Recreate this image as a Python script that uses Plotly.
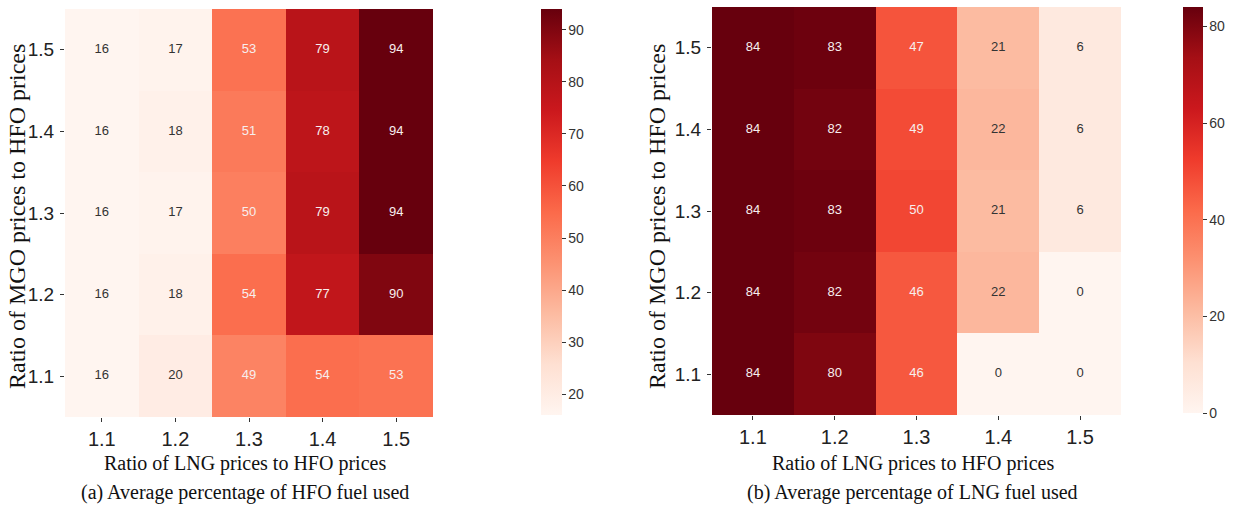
import plotly.graph_objects as go

# ---- data ----
lng_ratio = ["1.1", "1.2", "1.3", "1.4", "1.5"]   # x categories
mgo_ratio = ["1.1", "1.2", "1.3", "1.4", "1.5"]   # y categories (bottom -> top)

# rows follow mgo_ratio (1.1 .. 1.5), columns follow lng_ratio
hfo_used = [
    [16, 20, 49, 54, 53],
    [16, 18, 54, 77, 90],
    [16, 17, 50, 79, 94],
    [16, 18, 51, 78, 94],
    [16, 17, 53, 79, 94],
]
lng_used = [
    [84, 80, 46, 0, 0],
    [84, 82, 46, 22, 0],
    [84, 83, 50, 21, 6],
    [84, 82, 49, 22, 6],
    [84, 83, 47, 21, 6],
]

x_title = "Ratio of LNG prices to HFO prices"
y_title = "Ratio of MGO prices to HFO prices"
sub_a = "(a) Average percentage of HFO fuel used"
sub_b = "(b) Average percentage of LNG fuel used"

# ---- style ----
W, H = 1237, 506
REDS = [[0, "rgb(255,245,240)"], [0.125, "rgb(254,224,210)"], [0.25, "rgb(252,187,161)"],
        [0.375, "rgb(252,146,114)"], [0.5, "rgb(251,106,74)"], [0.625, "rgb(239,59,44)"],
        [0.75, "rgb(203,24,29)"], [0.875, "rgb(165,15,21)"], [1, "rgb(103,0,13)"]]
SANS = "Liberation Sans, Arial, sans-serif"
SERIF = "Liberation Serif, Times New Roman, serif"

def px_x(p):
    return p / W

def px_y(p):
    return 1 - p / H

panels = [
    dict(z=hfo_used, zmin=16, zmax=94, dtick=10, xd=(65, 433), yd=(9, 417),
         cb_x=541, cb_top=9, cb_bot=415, cb_th=21, sub=sub_a, xs="x", ys="y"),
    dict(z=lng_used, zmin=0, zmax=84, dtick=20, xd=(712, 1121), yd=(7, 415),
         cb_x=1183, cb_top=7, cb_bot=413, cb_th=20, sub=sub_b, xs="x2", ys="y2"),
]

fig = go.Figure()
annotations = []
for i, p in enumerate(panels):
    fig.add_trace(go.Heatmap(
        z=p["z"], x=lng_ratio, y=mgo_ratio, xaxis=p["xs"], yaxis=p["ys"],
        colorscale=REDS, zmin=p["zmin"], zmax=p["zmax"], hoverongaps=False,
        colorbar=dict(
            x=px_x(p["cb_x"]), xanchor="left", xref="paper", xpad=0, ypad=0,
            y=px_y((p["cb_top"] + p["cb_bot"]) / 2), yanchor="middle",
            len=p["cb_bot"] - p["cb_top"], lenmode="pixels",
            thickness=p["cb_th"], thicknessmode="pixels",
            outlinewidth=0, ticks="outside", ticklen=4, tickwidth=1, tickcolor="#333",
            dtick=p["dtick"], tick0=0,
            tickfont=dict(family=SANS, size=14, color="#333"),
        ),
    ))
    # cell labels
    xs, ys, ts, cs = [], [], [], []
    for r, yv in enumerate(mgo_ratio):
        for c, xv in enumerate(lng_ratio):
            v = p["z"][r][c]
            norm = (v - p["zmin"]) / (p["zmax"] - p["zmin"])
            xs.append(xv); ys.append(yv); ts.append(str(v))
            cs.append("#f7eeee" if norm > 0.35 else "#333333")
    fig.add_trace(go.Scatter(
        x=xs, y=ys, text=ts, mode="text", xaxis=p["xs"], yaxis=p["ys"],
        textfont=dict(family=SANS, size=13, color=cs), showlegend=False, hoverinfo="skip",
    ))
    cx = (p["xd"][0] + p["xd"][1]) / 2 - 4
    annotations.append(dict(text=x_title, x=px_x(cx), y=px_y(463), xref="paper", yref="paper",
                            xanchor="center", yanchor="middle", showarrow=False,
                            font=dict(family=SERIF, size=20, color="#111")))
    annotations.append(dict(text=p["sub"], x=px_x(cx), y=px_y(492), xref="paper", yref="paper",
                            xanchor="center", yanchor="middle", showarrow=False,
                            font=dict(family=SERIF, size=20, color="#111")))
    annotations.append(dict(text=y_title, x=px_x(17 + (0 if i == 0 else 640)), y=px_y(217),
                            xref="paper", yref="paper", textangle=-90,
                            xanchor="center", yanchor="middle", showarrow=False,
                            font=dict(family=SERIF, size=24, color="#111")))

axis_common = dict(type="category", showgrid=False, zeroline=False, showline=False,
                   ticks="outside", ticklen=4, tickwidth=1, tickcolor="#333",
                   tickfont=dict(family=SANS, size=20, color="#222"), range=[-0.5, 4.5])

layout = dict(
    width=W, height=H, margin=dict(l=0, r=0, t=0, b=0),
    paper_bgcolor="white", plot_bgcolor="white", showlegend=False,
    annotations=annotations,
)
for i, p in enumerate(panels):
    sfx = "" if i == 0 else "2"
    layout["xaxis" + sfx] = dict(axis_common, domain=[px_x(p["xd"][0]), px_x(p["xd"][1])],
                                 anchor="y" + sfx, categoryorder="array", categoryarray=lng_ratio)
    layout["yaxis" + sfx] = dict(axis_common, domain=[px_y(p["yd"][1]), px_y(p["yd"][0])],
                                 anchor="x" + sfx, categoryorder="array", categoryarray=mgo_ratio,
                                 ticklabelstandoff=2, tickfont=dict(family=SANS, size=19, color="#222"))

fig.update_layout(**layout)
fig.write_html("out.html", config={"displayModeBar": False},
               post_script="document.body.style.margin='0';document.body.style.overflow='hidden';")
